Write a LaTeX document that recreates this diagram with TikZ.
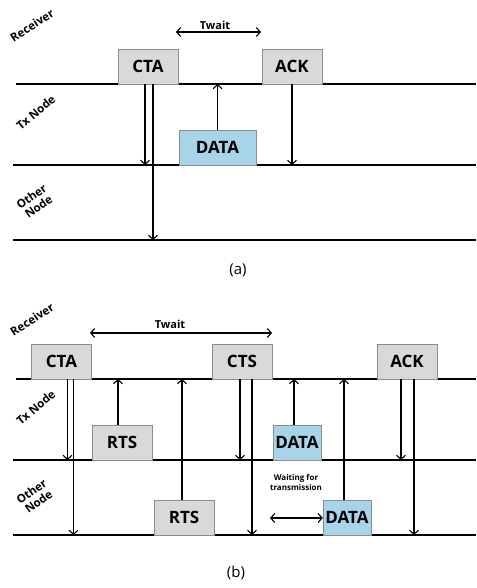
\documentclass[tikz,border=0pt]{standalone}
\usepackage{fontspec}
\setmainfont{Open Sans}
\usetikzlibrary{arrows.meta}
\definecolor{boxgray}{HTML}{D9D9D9}
\definecolor{boxblue}{HTML}{A8D4EA}
\definecolor{edgegray}{HTML}{8C8C8C}
\newcommand{\lanetext}[2]{\rotatebox{#1}{\begin{tabular}{@{}c@{}}#2\end{tabular}}}

\begin{document}
\begin{tikzpicture}[
    x=1pt, y=-1pt,
 msg/.style = {
        draw=edgegray, fill=boxgray, anchor=south, inner sep=1pt,
        minimum width=60pt, minimum height=35pt,
        font=\fontsize{17}{17}\selectfont\bfseries},
msgdata/.style = {msg, fill=boxblue},
   lane/.style = {line width=1.4pt},
lanelbl/.style = {font=\fontsize{11.5}{12.5}\selectfont\bfseries, inner sep=0pt},
   tlbl/.style = {font=\fontsize{11}{11}\selectfont\bfseries, inner sep=0pt},
  arrow/.style = {line width=1.1pt, -{Straight Barb[length=4pt,width=9pt]}},
 twoway/.style = {line width=1.1pt,
        {Straight Barb[length=4pt,width=9pt]}-{Straight Barb[length=4pt,width=9pt]}}
                    ]
\useasboundingbox (0,0) rectangle (476,588);

% ---------- part (a) ----------
% the lanes
\draw[lane] (16,84) coordinate (a1w) -- (476,84);
\draw[lane] (13,165) coordinate (a2w) -- (476,165);
\draw[lane] (13,240) coordinate (a3w) -- (476,240);
% the labels on the left
\node[lanelbl] (rxA) at (33,27) {\lanetext{33}{Receiver}};
\node[lanelbl] (txA) at (37,114) {\lanetext{40}{Tx Node}};
\node[lanelbl] (otA) at (36,203) {\lanetext{35}{Other\\ Node}};
% the frames
\node[msg] (ctaA) at (148,84) {CTA};
\node[msg] (ackA) at (292,84) {ACK};
\node[msgdata, minimum width=77pt] (dataA) at (217.5,165) {DATA};
% waiting time
\node[tlbl] (twA) at (215,25) {Twait};
\coordinate (twA1) at (176,32);
\coordinate (twA2) at (261,32);
\draw[twoway] (twA1) -- (twA2);
% the arrows
\draw[arrow] ([xshift=-3pt]ctaA.south) coordinate (ca1) -- (ca1 |- a2w);
\draw[arrow] ([xshift=5pt]ctaA.south) coordinate (ca2) -- (ca2 |- a3w);
\draw[arrow] (dataA.north) -- (dataA.north |- a1w);
\draw[arrow] (ackA.south) -- (ackA.south |- a2w);
\node[font=\fontsize{15}{15}\selectfont] (capA) at (238,270) {(a)};

% ---------- part (b) ----------
% the lanes
\draw[lane] (16,379) coordinate (b1w) -- (476,379);
\draw[lane] (13,460) coordinate (b2w) -- (476,460);
\draw[lane] (13,535) coordinate (b3w) -- (476,535);
% the labels on the left
\node[lanelbl] (rxB) at (33,321) {\lanetext{33}{Receiver}};
\node[lanelbl] (txB) at (37,409) {\lanetext{40}{Tx Node}};
\node[lanelbl] (otB) at (36,498) {\lanetext{35}{Other\\ Node}};
% the frames
\node[msg] (ctaB) at (61.5,379) {CTA};
\node[msg] (ctsB) at (242,379) {CTS};
\node[msg] (ackB) at (407,379) {ACK};
\node[msg] (rtsTx) at (122,460) {RTS};
\node[msg] (rtsOt) at (184,535) {RTS};
\node[msgdata, minimum width=48pt] (dataTx) at (297,460) {DATA};
\node[msgdata, minimum width=48pt] (dataOt) at (347,535) {DATA};
% waiting time
\node[tlbl] (twB) at (170,324) {Twait};
\coordinate (twB1) at (90,333);
\coordinate (twB2) at (272,333);
\draw[twoway] (twB1) -- (twB2);
\node[font=\fontsize{8}{10}\selectfont\bfseries, align=center]
        (wait) at (296,482) {Waiting for\\ transmission};
\coordinate (wt) at (270,518);
\draw[twoway] (wt) -- (wt -| dataOt.west);
% the arrows
\draw[arrow] ([xshift=6pt]ctaB.south) coordinate (cb1) -- (cb1 |- b2w);
\draw[arrow] ([xshift=12pt]ctaB.south) coordinate (cb2) -- (cb2 |- b3w);
\draw[arrow] ([xshift=-4pt]rtsTx.north) coordinate (rb1) -- (rb1 |- b1w);
\draw[arrow] ([xshift=-2pt]rtsOt.north) coordinate (rb2) -- (rb2 |- b1w);
\draw[arrow] ([xshift=-2pt]ctsB.south) coordinate (sb1) -- (sb1 |- b2w);
\draw[arrow] ([xshift=10pt]ctsB.south) coordinate (sb2) -- (sb2 |- b3w);
\draw[arrow] ([xshift=-3pt]dataTx.north) coordinate (db1) -- (db1 |- b1w);
\draw[arrow] ([xshift=-3pt]dataOt.north) coordinate (db2) -- (db2 |- b1w);
\draw[arrow] ([xshift=-6pt]ackB.south) coordinate (kb1) -- (kb1 |- b2w);
\draw[arrow] ([xshift=7pt]ackB.south) coordinate (kb2) -- (kb2 |- b3w);
\node[font=\fontsize{15}{15}\selectfont] (capB) at (236,573) {(b)};
\end{tikzpicture}
\end{document}
